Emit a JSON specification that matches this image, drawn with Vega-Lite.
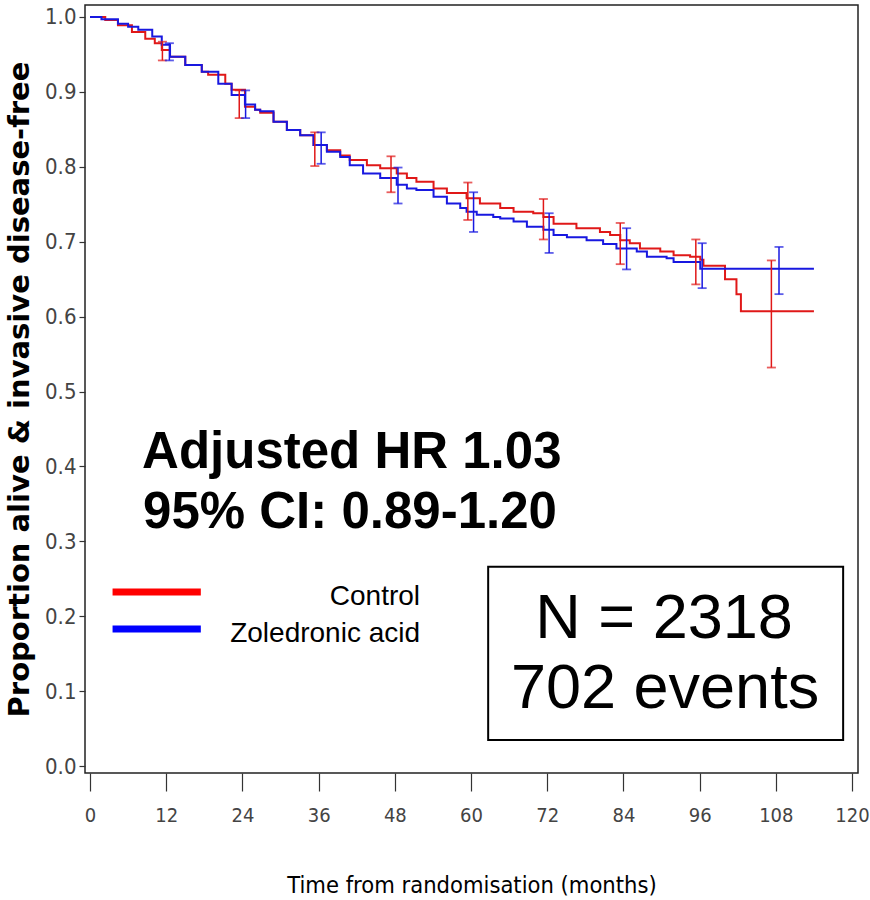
{
  "$schema": "https://vega.github.io/schema/vega-lite/v6.json",
  "width": 773,
  "height": 768,
  "autosize": {"type": "none"},
  "padding": {"left": 85, "top": 5, "right": 12, "bottom": 127},
  "background": "white",
  "config": {
    "view": {"stroke": "#222222", "strokeWidth": 1.5},
    "axis": {"grid": false, "domain": false}
  },
  "datasets": {
    "km": [
      {"group": "Control", "t": 0, "s": 1.0},
      {"group": "Control", "t": 2.4, "s": 0.996},
      {"group": "Control", "t": 4.4, "s": 0.989},
      {"group": "Control", "t": 6.6, "s": 0.980},
      {"group": "Control", "t": 8.7, "s": 0.971},
      {"group": "Control", "t": 10.2, "s": 0.965},
      {"group": "Control", "t": 11.3, "s": 0.956},
      {"group": "Control", "t": 12.6, "s": 0.947},
      {"group": "Control", "t": 15, "s": 0.936},
      {"group": "Control", "t": 17.6, "s": 0.927},
      {"group": "Control", "t": 18.6, "s": 0.923},
      {"group": "Control", "t": 21.3, "s": 0.911},
      {"group": "Control", "t": 22.3, "s": 0.903},
      {"group": "Control", "t": 24.4, "s": 0.880},
      {"group": "Control", "t": 26, "s": 0.876},
      {"group": "Control", "t": 26.8, "s": 0.872},
      {"group": "Control", "t": 28.9, "s": 0.860},
      {"group": "Control", "t": 31, "s": 0.849},
      {"group": "Control", "t": 33.1, "s": 0.842},
      {"group": "Control", "t": 35.2, "s": 0.829},
      {"group": "Control", "t": 37.3, "s": 0.822},
      {"group": "Control", "t": 39.4, "s": 0.815},
      {"group": "Control", "t": 40.9, "s": 0.809},
      {"group": "Control", "t": 43.6, "s": 0.802},
      {"group": "Control", "t": 45.7, "s": 0.798},
      {"group": "Control", "t": 48.3, "s": 0.791},
      {"group": "Control", "t": 49.9, "s": 0.785},
      {"group": "Control", "t": 51.4, "s": 0.780},
      {"group": "Control", "t": 54.1, "s": 0.771},
      {"group": "Control", "t": 56.2, "s": 0.765},
      {"group": "Control", "t": 59.3, "s": 0.758},
      {"group": "Control", "t": 61.4, "s": 0.751},
      {"group": "Control", "t": 64.6, "s": 0.745},
      {"group": "Control", "t": 66.7, "s": 0.740},
      {"group": "Control", "t": 69.8, "s": 0.738},
      {"group": "Control", "t": 71.4, "s": 0.733},
      {"group": "Control", "t": 73, "s": 0.724},
      {"group": "Control", "t": 76.6, "s": 0.718},
      {"group": "Control", "t": 80.3, "s": 0.713},
      {"group": "Control", "t": 81.9, "s": 0.709},
      {"group": "Control", "t": 83.5, "s": 0.702},
      {"group": "Control", "t": 85, "s": 0.698},
      {"group": "Control", "t": 86.6, "s": 0.691},
      {"group": "Control", "t": 89.8, "s": 0.687},
      {"group": "Control", "t": 91.9, "s": 0.682},
      {"group": "Control", "t": 94.5, "s": 0.680},
      {"group": "Control", "t": 96.1, "s": 0.676},
      {"group": "Control", "t": 96.6, "s": 0.668},
      {"group": "Control", "t": 100, "s": 0.650},
      {"group": "Control", "t": 101.8, "s": 0.630},
      {"group": "Control", "t": 102.5, "s": 0.607},
      {"group": "Control", "t": 114, "s": 0.607},
      {"group": "Zoledronic acid", "t": 0, "s": 1.0},
      {"group": "Zoledronic acid", "t": 1.8, "s": 0.997},
      {"group": "Zoledronic acid", "t": 4.4, "s": 0.991},
      {"group": "Zoledronic acid", "t": 6, "s": 0.987},
      {"group": "Zoledronic acid", "t": 7.6, "s": 0.983},
      {"group": "Zoledronic acid", "t": 9.8, "s": 0.974},
      {"group": "Zoledronic acid", "t": 11.3, "s": 0.963},
      {"group": "Zoledronic acid", "t": 12.6, "s": 0.947},
      {"group": "Zoledronic acid", "t": 15, "s": 0.936},
      {"group": "Zoledronic acid", "t": 17.6, "s": 0.927},
      {"group": "Zoledronic acid", "t": 20.2, "s": 0.911},
      {"group": "Zoledronic acid", "t": 22.3, "s": 0.896},
      {"group": "Zoledronic acid", "t": 24.4, "s": 0.883},
      {"group": "Zoledronic acid", "t": 26, "s": 0.876},
      {"group": "Zoledronic acid", "t": 26.8, "s": 0.874},
      {"group": "Zoledronic acid", "t": 28.9, "s": 0.860},
      {"group": "Zoledronic acid", "t": 31, "s": 0.849},
      {"group": "Zoledronic acid", "t": 33.1, "s": 0.842},
      {"group": "Zoledronic acid", "t": 35.2, "s": 0.829},
      {"group": "Zoledronic acid", "t": 37.3, "s": 0.820},
      {"group": "Zoledronic acid", "t": 39.4, "s": 0.813},
      {"group": "Zoledronic acid", "t": 40.9, "s": 0.802},
      {"group": "Zoledronic acid", "t": 43, "s": 0.791},
      {"group": "Zoledronic acid", "t": 45.7, "s": 0.785},
      {"group": "Zoledronic acid", "t": 48.3, "s": 0.776},
      {"group": "Zoledronic acid", "t": 49.9, "s": 0.771},
      {"group": "Zoledronic acid", "t": 51.4, "s": 0.769},
      {"group": "Zoledronic acid", "t": 54.1, "s": 0.760},
      {"group": "Zoledronic acid", "t": 56.2, "s": 0.751},
      {"group": "Zoledronic acid", "t": 58.3, "s": 0.745},
      {"group": "Zoledronic acid", "t": 59.3, "s": 0.740},
      {"group": "Zoledronic acid", "t": 60.9, "s": 0.736},
      {"group": "Zoledronic acid", "t": 63.5, "s": 0.733},
      {"group": "Zoledronic acid", "t": 64.6, "s": 0.731},
      {"group": "Zoledronic acid", "t": 66.7, "s": 0.727},
      {"group": "Zoledronic acid", "t": 68.8, "s": 0.720},
      {"group": "Zoledronic acid", "t": 71.4, "s": 0.716},
      {"group": "Zoledronic acid", "t": 73, "s": 0.709},
      {"group": "Zoledronic acid", "t": 75.1, "s": 0.706},
      {"group": "Zoledronic acid", "t": 78.2, "s": 0.702},
      {"group": "Zoledronic acid", "t": 80.8, "s": 0.697},
      {"group": "Zoledronic acid", "t": 82.9, "s": 0.691},
      {"group": "Zoledronic acid", "t": 86.1, "s": 0.687},
      {"group": "Zoledronic acid", "t": 87.7, "s": 0.680},
      {"group": "Zoledronic acid", "t": 90.8, "s": 0.678},
      {"group": "Zoledronic acid", "t": 91.9, "s": 0.673},
      {"group": "Zoledronic acid", "t": 96.1, "s": 0.664},
      {"group": "Zoledronic acid", "t": 114, "s": 0.664}
    ],
    "ci": [
      {"group": "Control", "t": 11.4, "lo": 0.942, "hi": 0.967},
      {"group": "Control", "t": 23.5, "lo": 0.865, "hi": 0.902},
      {"group": "Control", "t": 35.4, "lo": 0.801, "hi": 0.846},
      {"group": "Control", "t": 47.4, "lo": 0.766, "hi": 0.814},
      {"group": "Control", "t": 59.5, "lo": 0.729, "hi": 0.779},
      {"group": "Control", "t": 71.4, "lo": 0.703, "hi": 0.757},
      {"group": "Control", "t": 83.5, "lo": 0.670, "hi": 0.725},
      {"group": "Control", "t": 95.4, "lo": 0.643, "hi": 0.703},
      {"group": "Control", "t": 107.3, "lo": 0.532, "hi": 0.675},
      {"group": "Zoledronic acid", "t": 12.5, "lo": 0.942, "hi": 0.965},
      {"group": "Zoledronic acid", "t": 24.5, "lo": 0.865, "hi": 0.902},
      {"group": "Zoledronic acid", "t": 36.4, "lo": 0.804, "hi": 0.846},
      {"group": "Zoledronic acid", "t": 48.5, "lo": 0.751, "hi": 0.799},
      {"group": "Zoledronic acid", "t": 60.4, "lo": 0.713, "hi": 0.766},
      {"group": "Zoledronic acid", "t": 72.3, "lo": 0.685, "hi": 0.738},
      {"group": "Zoledronic acid", "t": 84.5, "lo": 0.663, "hi": 0.718},
      {"group": "Zoledronic acid", "t": 96.4, "lo": 0.638, "hi": 0.698},
      {"group": "Zoledronic acid", "t": 108.5, "lo": 0.630, "hi": 0.693}
    ],
    "hr": [
      {"x": 8.2, "y": 0.398, "text": "Adjusted HR 1.03"},
      {"x": 8.35, "y": 0.318, "text": "95% CI: 0.89-1.20"}
    ],
    "box": [
      {"x1": 62.7, "x2": 118.6, "y1": 0.0347, "y2": 0.266}
    ],
    "boxtext": [
      {"x": 90.4, "y": 0.171, "text": "N = 2318"},
      {"x": 90.55, "y": 0.0774, "text": "702 events"}
    ],
    "legend": [
      {"group": "Control", "x1": 3.55, "x2": 17.45, "y": 0.2323, "lx": 51.97, "ly": 0.215},
      {"group": "Zoledronic acid", "x1": 3.55, "x2": 17.45, "y": 0.1829, "lx": 51.97, "ly": 0.1655}
    ]
  },
  "resolve": {"scale": {"color": "independent"}},
  "layer": [
    {
      "data": {"name": "km"},
      "mark": {"type": "line", "interpolate": "step-after", "strokeWidth": 2},
      "encoding": {
        "x": {
          "field": "t", "type": "quantitative",
          "title": "Time from randomisation (months)",
          "scale": {"domain": [-0.79, 120.94], "nice": false, "zero": false},
          "axis": {
            "values": [0, 12, 24, 36, 48, 60, 72, 84, 96, 108, 120],
            "tickSize": 18, "tickColor": "#333333", "tickWidth": 1.2,
            "labelFont": "DejaVu Sans Condensed, Liberation Sans Narrow, Roboto Condensed, Roboto", "labelFontSize": 20, "labelColor": "#444444",
            "labelPadding": 14, "labelFlush": false,
            "titleFont": "DejaVu Sans Condensed, Liberation Sans Narrow, Roboto Condensed, Roboto", "titleFontSize": 23.5, "titleFontWeight": "normal",
            "titleColor": "#000000", "titleBaseline": "alphabetic", "titleY": 119
          }
        },
        "y": {
          "field": "s", "type": "quantitative",
          "title": "Proportion alive & invasive disease-free",
          "scale": {"domain": [-0.0093, 1.016], "nice": false, "zero": false},
          "axis": {
            "values": [0, 0.1, 0.2, 0.3, 0.4, 0.5, 0.6, 0.7, 0.8, 0.9, 1.0],
            "format": ".1f",
            "tickSize": 6, "tickColor": "#333333", "tickWidth": 1.2,
            "labelFont": "DejaVu Sans Condensed, Liberation Sans Narrow, Roboto Condensed, Roboto", "labelFontSize": 22, "labelColor": "#444444",
            "labelPadding": 3, "labelFlush": false,
            "titleFont": "DejaVu Sans", "titleFontSize": 29, "titleFontWeight": "bold",
            "titleColor": "#000000", "titleAngle": -90, "titleBaseline": "alphabetic",
            "titleAlign": "center", "titleX": -57, "titleY": 384
          }
        },
        "color": {
          "field": "group", "type": "nominal",
          "scale": {"domain": ["Control", "Zoledronic acid"], "range": ["#e01818", "#1818e0"]},
          "legend": null
        }
      }
    },
    {
      "data": {"name": "ci"},
      "mark": {"type": "errorbar", "ticks": {"size": 9, "thickness": 1.8}, "thickness": 1.5},
      "encoding": {
        "x": {"field": "t", "type": "quantitative", "title": "Time from randomisation (months)"},
        "y": {"field": "lo", "type": "quantitative", "title": "Proportion alive & invasive disease-free"},
        "y2": {"field": "hi"},
        "color": {
          "field": "group", "type": "nominal",
          "scale": {"domain": ["Control", "Zoledronic acid"], "range": ["#e01818", "#1818e0"]},
          "legend": null
        }
      }
    },
    {
      "data": {"name": "hr"},
      "mark": {"type": "text", "align": "left", "baseline": "alphabetic", "font": "Liberation Sans", "fontWeight": "bold", "fontSize": 51, "color": "#000000"},
      "encoding": {
        "x": {"field": "x", "type": "quantitative"},
        "y": {"field": "y", "type": "quantitative"},
        "text": {"field": "text"}
      }
    },
    {
      "data": {"name": "box"},
      "mark": {"type": "rect", "fill": "white", "stroke": "#000000", "strokeWidth": 2},
      "encoding": {
        "x": {"field": "x1", "type": "quantitative"},
        "x2": {"field": "x2"},
        "y": {"field": "y1", "type": "quantitative"},
        "y2": {"field": "y2"}
      }
    },
    {
      "data": {"name": "boxtext"},
      "mark": {"type": "text", "align": "center", "baseline": "alphabetic", "font": "Liberation Sans", "fontSize": 63, "color": "#000000"},
      "encoding": {
        "x": {"field": "x", "type": "quantitative"},
        "y": {"field": "y", "type": "quantitative"},
        "text": {"field": "text"}
      }
    },
    {
      "data": {"name": "legend"},
      "mark": {"type": "rule", "strokeWidth": 7},
      "encoding": {
        "x": {"field": "x1", "type": "quantitative"},
        "x2": {"field": "x2"},
        "y": {"field": "y", "type": "quantitative"},
        "color": {
          "field": "group", "type": "nominal",
          "scale": {"domain": ["Control", "Zoledronic acid"], "range": ["#ff0000", "#0000ff"]},
          "legend": null
        }
      }
    },
    {
      "data": {"name": "legend"},
      "mark": {"type": "text", "align": "right", "baseline": "alphabetic", "font": "Liberation Sans", "fontSize": 28, "color": "#000000"},
      "encoding": {
        "x": {"field": "lx", "type": "quantitative"},
        "y": {"field": "ly", "type": "quantitative"},
        "text": {"field": "group"}
      }
    }
  ]
}
